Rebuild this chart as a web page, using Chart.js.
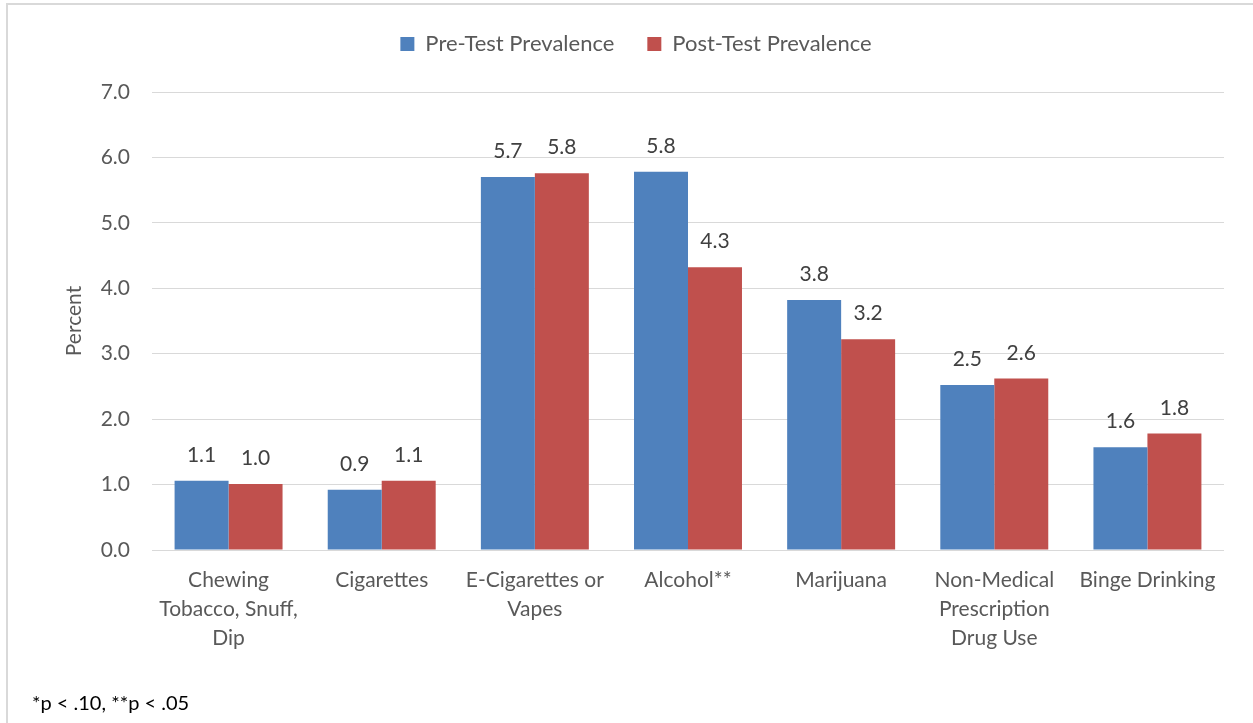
<!DOCTYPE html>
<html>
<head>
<meta charset="utf-8">
<script src="https://cdn.jsdelivr.net/npm/chart.js@4/dist/chart.umd.min.js"></script>
<style>
  html, body { margin: 0; padding: 0; background: #fff; }
  #wrap { position: relative; width: 1253px; height: 723px; overflow: hidden; }
  #frame { position: absolute; left: 6px; top: 3px; width: 1400px; height: 900px;
           border-top: 2px solid #d9d9d9; border-left: 2px solid #d9d9d9; }
  #c { position: absolute; left: 0; top: 0; }
  #note { position: absolute; left: 32px; top: 690px; font: 20px Lato, sans-serif; color: #000; }
</style>
</head>
<body>
<div id="wrap">
  <div id="frame"></div>
  <canvas id="c" width="1253" height="723"></canvas>
  <div id="note">*p &lt; .10, **p &lt; .05</div>
</div>
<script>
// Substance categories (multi-line labels as arrays)
const categories = [
  ['Chewing', 'Tobacco, Snuff,', 'Dip'],
  'Cigarettes',
  ['E-Cigarettes or', 'Vapes'],
  'Alcohol**',
  'Marijuana',
  ['Non-Medical', 'Prescription', 'Drug Use'],
  'Binge Drinking'
];
const seriesNames = ['Pre-Test Prevalence', 'Post-Test Prevalence'];
const preTest  = [1.06, 0.92, 5.70, 5.78, 3.82, 2.52, 1.57];
const postTest = [1.01, 1.06, 5.76, 4.32, 3.22, 2.62, 1.78];
const yMin = 0, yMax = 7, yStep = 1;
const axisTitle = 'Percent';

const FONT = 'Lato, "Open Sans", sans-serif';
const TEXT = '#595959';
const SIZE = 21;

// Writes each bar's value (one decimal) above it
const valueLabels = {
  id: 'valueLabels',
  afterDatasetsDraw(chart) {
    const { ctx } = chart;
    ctx.save();
    ctx.font = SIZE + 'px ' + FONT;
    ctx.fillStyle = '#404040';
    ctx.textAlign = 'center';
    ctx.textBaseline = 'alphabetic';
    chart.data.datasets.forEach((ds, i) => {
      chart.getDatasetMeta(i).data.forEach((bar, j) => {
        ctx.fillText(ds.data[j].toFixed(1), bar.x, bar.y - 19);
      });
    });
    ctx.restore();
  }
};

// Leaves extra room under the legend and centres it over the whole frame
const legendGap = {
  id: 'legendGap',
  beforeLayout(chart) {
    const lg = chart.legend;
    if (lg && !lg._gapWrapped) {
      const fit = lg.fit;
      lg.fit = function () { fit.call(this); this.height += 27; };
      lg._gapWrapped = true;
    }
  },
  afterLayout(chart) {
    const lg = chart.legend;
    if (lg) { lg.left += 24; lg.right += 24; }
  }
};

new Chart(document.getElementById('c'), {
  type: 'bar',
  data: {
    labels: categories,
    datasets: [
      { label: seriesNames[0], data: preTest,  backgroundColor: '#4F81BD', borderWidth: 0 },
      { label: seriesNames[1], data: postTest, backgroundColor: '#C0504D', borderWidth: 0 }
    ]
  },
  options: {
    responsive: false,
    animation: false,
    layout: { padding: { top: 0, right: 29, bottom: 0, left: 0 } },
    datasets: { bar: { categoryPercentage: 0.705, barPercentage: 1.0 } },
    plugins: {
      legend: {
        position: 'top',
        labels: {
          boxWidth: 14, boxHeight: 14, padding: 33,
          color: TEXT, font: { family: FONT, size: 22 }
        }
      },
      tooltip: { enabled: false }
    },
    scales: {
      x: {
        grid: { display: false, drawTicks: false },
        border: { display: false },
        ticks: {
          color: TEXT, font: { family: FONT, size: SIZE, lineHeight: 29 / SIZE },
          padding: 16, maxRotation: 0, autoSkip: false
        },
        afterFit(scale) { scale.height = 173; }
      },
      y: {
        min: yMin, max: yMax,
        grid: { color: '#d9d9d9', lineWidth: 1, drawTicks: false },
        border: { display: false },
        ticks: {
          stepSize: yStep, padding: 22, color: TEXT,
          font: { family: FONT, size: SIZE },
          callback: v => Number(v).toFixed(1)
        },
        title: {
          display: true, text: axisTitle, color: TEXT,
          font: { family: FONT, size: SIZE }, padding: { top: 62, bottom: 0 }
        },
        afterFit(scale) { scale.width = 152; }
      }
    }
  },
  plugins: [valueLabels, legendGap]
});
</script>
</body>
</html>
